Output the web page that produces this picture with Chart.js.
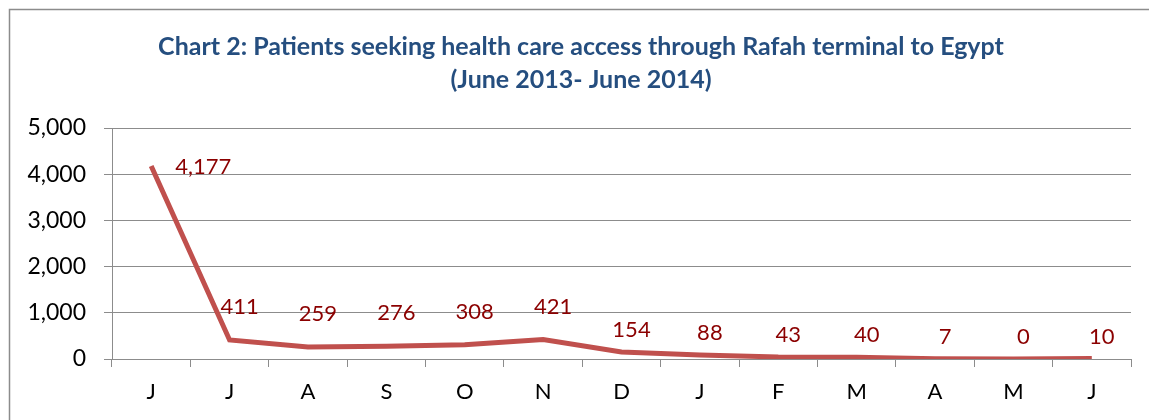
<!DOCTYPE html>
<html>
<head>
<meta charset="utf-8">
<script src="https://cdn.jsdelivr.net/npm/chart.js@4"></script>
<style>
  html, body { margin: 0; padding: 0; background: #fff; }
  #wrap { width: 1149px; height: 420px; }
</style>
</head>
<body>
<div id="wrap"><canvas id="rafahChart" width="1149" height="420"></canvas></div>
<script>
const months = ['J', 'J', 'A', 'S', 'O', 'N', 'D', 'J', 'F', 'M', 'A', 'M', 'J'];
const patients = [4177, 411, 259, 276, 308, 421, 154, 88, 43, 40, 7, 0, 10];
const yTicks = [0, 1000, 2000, 3000, 4000, 5000];
const titleLines = [
    'Chart 2: Patients seeking health care access through Rafah terminal to Egypt',
    '(June 2013- June 2014)'
];

const fontName = 'Lato, "Open Sans", sans-serif';
const gridGray = '#8c8c8c';

// frame + title, drawn by hand
const framePlugin = {
    id: 'frame',
    beforeDraw(chart) {
        const c = chart.ctx;
        c.save();
        c.strokeStyle = '#8c8c8c';
        c.lineWidth = 1.5;
        c.strokeRect(9.5, 9.5, 1170, 440);
        c.fillStyle = '#254e7f';
        c.font = 'bold 25px ' + fontName;
        c.textAlign = 'center';
        c.textBaseline = 'middle';
        c.fillText(titleLines[0], 581, 47);
        c.fillText(titleLines[1], 581, 80);
        c.restore();
    }
};

// value labels above each point (first one sits to the right)
const labelPlugin = {
    id: 'valueLabels',
    afterDatasetsDraw(chart) {
        const c = chart.ctx;
        const meta = chart.getDatasetMeta(0);
        c.save();
        c.fillStyle = '#8b0000';
        c.font = '22px ' + fontName;
        c.textBaseline = 'middle';
        meta.data.forEach((pt, i) => {
            const txt = patients[i].toLocaleString('en-US');
            if (patients[i] > 3000) {
                c.textAlign = 'left';
                c.fillText(txt, pt.x + 24, pt.y + 1);
            } else {
                c.textAlign = 'center';
                const lift = patients[i] >= 200 ? 33 : 22;
                c.fillText(txt, pt.x + 10, pt.y - lift);
            }
        });
        c.restore();
    }
};

new Chart(document.getElementById('rafahChart'), {
    type: 'line',
    data: {
        labels: months,
        datasets: [{
            data: patients,
            borderColor: '#c0504d',
            borderWidth: 5,
            pointRadius: 0,
            tension: 0,
            fill: false
        }]
    },
    options: {
        responsive: false,
        animation: false,
        layout: { padding: { top: 128, right: 18, left: 0, bottom: 0 } },
        plugins: {
            legend: { display: false },
            tooltip: { enabled: false },
            title: { display: false }
        },
        scales: {
            x: {
                offset: true,
                grid: {
                    offset: true,
                    drawOnChartArea: false,
                    drawTicks: true,
                    tickLength: 8,
                    color: gridGray
                },
                border: { color: gridGray, width: 1 },
                ticks: {
                    color: '#000',
                    font: { family: fontName, size: 22 },
                    padding: 12,
                    maxRotation: 0
                },
                afterFit(scale) { scale.height = 61; }
            },
            y: {
                min: 0,
                max: 5000,
                afterBuildTicks(scale) { scale.ticks = yTicks.map(v => ({ value: v })); },
                grid: { color: gridGray, tickLength: 8, lineWidth: 1 },
                border: { color: gridGray, width: 1 },
                ticks: {
                    color: '#000',
                    font: { family: fontName, size: 23 },
                    padding: 18,
                    callback: v => v.toLocaleString('en-US')
                },
                afterFit(scale) { scale.width = 112; }
            }
        }
    },
    plugins: [framePlugin, labelPlugin]
});
</script>
</body>
</html>
